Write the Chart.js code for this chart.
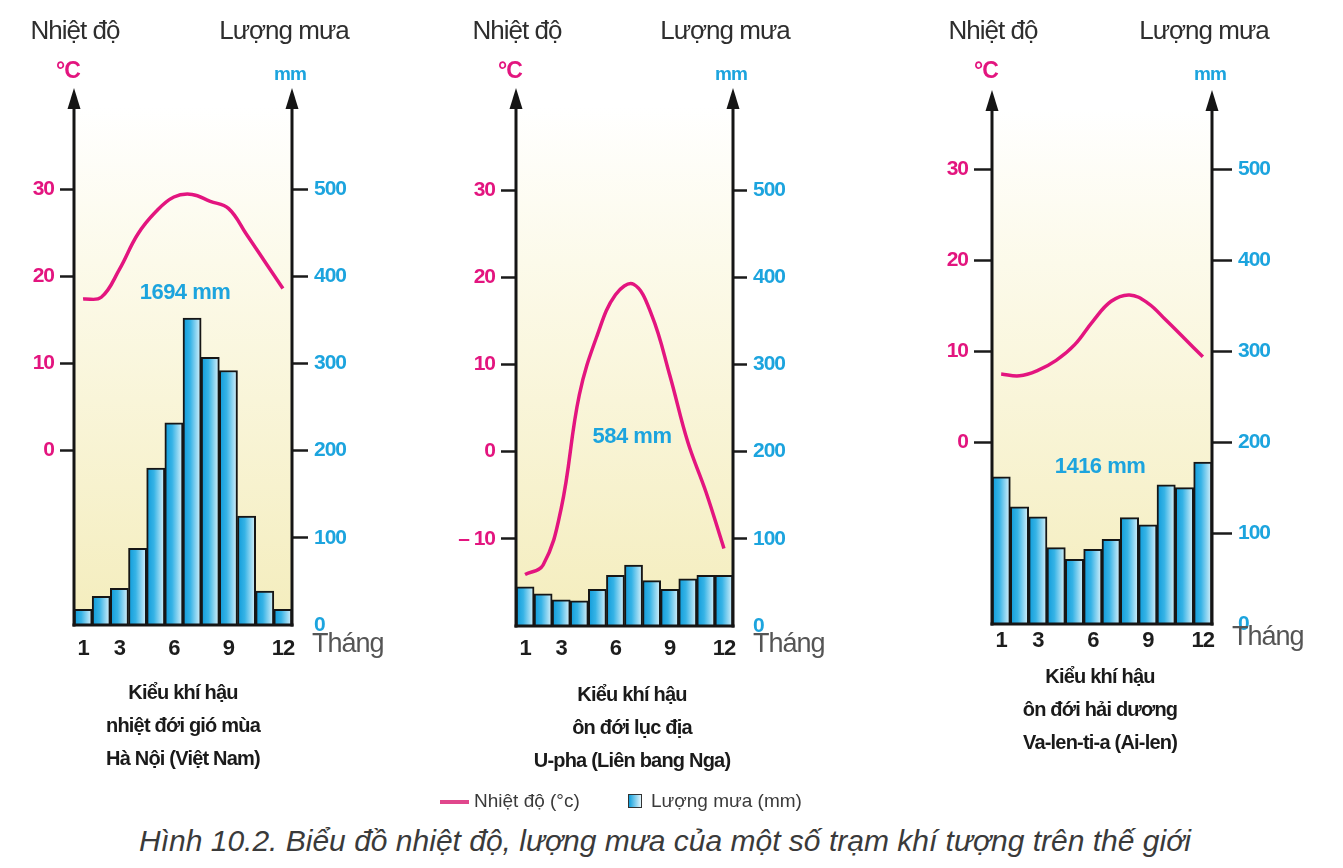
<!DOCTYPE html>
<html>
<head>
<meta charset="utf-8">
<script src="https://cdn.jsdelivr.net/npm/chart.js@4.4.1/dist/chart.umd.min.js"></script>
<style>
  body { margin: 0; background: #fff; width: 1343px; height: 868px; position: relative; overflow: hidden; }
  canvas { position: absolute; top: 0; }
  .sub { position: absolute; width: 320px; text-align: center; color: #1a1a1a;
         font: bold 20px 'Liberation Sans', Arial, sans-serif; line-height: 33px; letter-spacing: -0.8px; }
  .legend { position: absolute; top: 790px; left: 440px; font: 19px 'Liberation Sans', Arial, sans-serif; color: #3a3a3a; }
  .legend span { position: absolute; white-space: nowrap; top: 0; }
  .caption { position: absolute; top: 824px; left: 0; width: 1330px; text-align: center; color: #3a3a3a;
             font: italic 30px 'Liberation Sans', Arial, sans-serif; white-space: nowrap; }
</style>
</head>
<body>
<canvas id="c1" width="440" height="680" style="left:0px"></canvas>
<canvas id="c2" width="440" height="680" style="left:440px"></canvas>
<canvas id="c3" width="443" height="680" style="left:900px"></canvas>

<div class="sub" style="left:23px; top:676px">Kiểu khí hậu<br>nhiệt đới gió mùa<br>Hà Nội (Việt Nam)</div>
<div class="sub" style="left:472px; top:678px">Kiểu khí hậu<br>ôn đới lục địa<br>U-pha (Liên bang Nga)</div>
<div class="sub" style="left:940px; top:660px">Kiểu khí hậu<br>ôn đới hải dương<br>Va-len-ti-a (Ai-len)</div>

<div class="legend">
  <span style="left:0; top:10px; width:29px; height:4px; background:#e0478c"></span>
  <span style="left:34px">Nhiệt độ (°c)</span>
  <span style="left:188px; top:4px; width:12px; height:12px; border:1.5px solid #333; background:linear-gradient(90deg,#0f9fdc,#e2f5fc)"></span>
  <span style="left:211px">Lượng mưa (mm)</span>
</div>
<div class="caption">Hình 10.2. Biểu đồ nhiệt độ, lượng mưa của một số trạm khí tượng trên thế giới</div>

<script>
// months on the x axis, only some of them get a label
const months = ['1', '2', '3', '4', '5', '6', '7', '8', '9', '10', '11', '12'];
const labeledMonths = ['1', '3', '6', '9', '12'];

// Hà Nội
const hanoiTemp = [17.4, 17.6, 20.8, 24.8, 27.4, 29.1, 29.4, 28.6, 27.8, 24.8, 21.7, 18.6];
const hanoiRain = [18, 33, 42, 88, 180, 232, 352, 307, 292, 125, 39, 18];

// U-pha
const ufaTemp = [-14.1, -13.0, -6.5, 6.5, 13.4, 18.0, 19.2, 15.7, 8.8, 1.1, -4.6, -11.1];
const ufaRain = [45, 37, 30, 29, 42, 58, 70, 52, 42, 54, 58, 58];

// Va-len-ti-a
const valentiaTemp = [7.5, 7.3, 7.9, 9.0, 10.7, 13.3, 15.5, 16.2, 15.3, 13.4, 11.4, 9.4];
const valentiaRain = [162, 129, 118, 84, 71, 82, 93, 117, 109, 153, 150, 178];

// tick labels that are printed
const tempTicks = [0, 10, 20, 30];
const ufaTempTicks = [-10, 0, 10, 20, 30];
const rainTicks = [0, 100, 200, 300, 400, 500];
const rainTickMarks = [100, 200, 300, 400, 500];

const totals = ['1694 mm', '584 mm', '1416 mm'];

const FONT = "'Liberation Sans', Arial, sans-serif";
const MAGENTA = '#e3157f';
const CYAN = '#1ca4de';


// horizontal blue gradient inside every bar
function barFill(c) {
    const solid = '#3ab4e5';
    if (c.type !== 'data') return solid;
    const xs = c.chart.scales.x;
    if (!xs) return solid;
    const cx = xs.getPixelForValue(c.dataIndex);
    const w = (xs.right - xs.left) / months.length;
    if (!isFinite(cx) || !isFinite(w) || w <= 0) return solid;
    const g = c.chart.ctx.createLinearGradient(cx - w / 2, 0, cx + w / 2, 0);
    g.addColorStop(0, '#0e9bda');
    g.addColorStop(0.4, '#36b3e6');
    g.addColorStop(1, '#def3fb');
    return g;
}


// background, axis arrows and the texts around each diagram
const decor = {
    id: 'decor',
    beforeDraw(chart, args, o) {
        const { ctx, chartArea: a } = chart;
        ctx.letterSpacing = '-1px';
        const top = o.tip + 18;
        const g = ctx.createLinearGradient(0, top, 0, a.bottom);
        g.addColorStop(0, '#ffffff');
        g.addColorStop(0.3, '#fcfaea');
        g.addColorStop(1, '#f4edbd');
        ctx.save();
        ctx.fillStyle = g;
        ctx.fillRect(a.left, top, a.right - a.left, a.bottom - top);
        ctx.restore();
    },
    afterDraw(chart, args, o) {
        const { ctx, chartArea: a } = chart;
        const L = a.left, R = a.right, B = a.bottom;
        ctx.save();
        ctx.strokeStyle = '#151515';
        ctx.fillStyle = '#151515';
        ctx.lineWidth = 3;
        [L, R].forEach(x => {
            ctx.beginPath();
            ctx.moveTo(x, B + 1.5);
            ctx.lineTo(x, o.tip + 16);
            ctx.stroke();
            ctx.beginPath();
            ctx.moveTo(x, o.tip);
            ctx.lineTo(x - 6.5, o.tip + 21);
            ctx.lineTo(x + 6.5, o.tip + 21);
            ctx.closePath();
            ctx.fill();
        });
        ctx.beginPath();
        ctx.moveTo(L - 1.5, B);
        ctx.lineTo(R + 1.5, B);
        ctx.stroke();

        ctx.textAlign = 'center';
        ctx.textBaseline = 'middle';
        ctx.fillStyle = '#2e2e2e';
        ctx.font = `26px ${FONT}`;
        ctx.fillText('Nhiệt độ', L + 1, 32);
        ctx.fillText('Lượng mưa', R - 8, 32);

        ctx.fillStyle = MAGENTA;
        ctx.font = `bold 23px ${FONT}`;
        ctx.fillText('°C', L - 6, 72);
        ctx.fillStyle = CYAN;
        ctx.font = `bold 19px ${FONT}`;
        ctx.fillText('mm', R - 2, 75);

        ctx.letterSpacing = '-0.5px';
        ctx.font = `bold 22px ${FONT}`;
        ctx.fillText(o.total, o.totalX, o.totalY);
        ctx.letterSpacing = '-1px';

        ctx.textAlign = 'left';
        ctx.fillStyle = '#555';
        ctx.font = `27px ${FONT}`;
        ctx.fillText('Tháng', R + 20, o.thangY);
        ctx.restore();
    }
};


function makeChart(id, temp, rain, shownTemp, geo, total) {
    return new Chart(document.getElementById(id), {
        type: 'bar',
        plugins: [decor],
        data: {
            labels: months,
            datasets: [
                {
                    type: 'line',
                    label: 'Nhiệt độ (°c)',
                    data: temp,
                    yAxisID: 'temp',
                    borderColor: MAGENTA,
                    borderWidth: 3.5,
                    tension: 0.4,
                    pointRadius: 0,
                    order: 0
                },
                {
                    type: 'bar',
                    label: 'Lượng mưa (mm)',
                    data: rain,
                    yAxisID: 'rain',
                    backgroundColor: barFill,
                    borderColor: '#161616',
                    borderWidth: 2,
                    barPercentage: 1,
                    categoryPercentage: 1,
                    order: 1
                }
            ]
        },
        options: {
            responsive: false,
            animation: false,
            layout: { padding: { top: geo.top, left: 0, right: 0, bottom: 0 } },
            plugins: {
                legend: { display: false },
                tooltip: { enabled: false },
                decor: { tip: geo.tip, thangY: geo.thangY, total: total, totalX: geo.totalX, totalY: geo.totalY }
            },
            scales: {
                x: {
                    grid: { display: false },
                    border: { display: false },
                    ticks: {
                        autoSkip: false,
                        maxRotation: 0,
                        padding: geo.xPad,
                        color: '#1d1d1d',
                        font: { family: FONT, size: 22, weight: 'bold' },
                        callback: (v) => labeledMonths.includes(months[v]) ? months[v] : ''
                    },
                    afterFit: (s) => { s.height = geo.height - geo.bottom; }
                },
                temp: {
                    type: 'linear',
                    position: 'left',
                    min: -20,
                    max: geo.tempMax,
                    border: { display: false },
                    grid: {
                        drawOnChartArea: false,
                        tickLength: geo.tempTick,
                        tickWidth: 2.5,
                        tickColor: (c) => c.tick && shownTemp.includes(c.tick.value) ? '#1a1a1a' : 'rgba(0,0,0,0)'
                    },
                    ticks: {
                        stepSize: 10,
                        padding: 6,
                        color: MAGENTA,
                        font: { family: FONT, size: 21, weight: 'bold' },
                        callback: (v) => shownTemp.includes(v) ? (v < 0 ? '– ' + (-v) : String(v)) : ''
                    },
                    afterFit: (s) => { s.width = geo.left; }
                },
                rain: {
                    type: 'linear',
                    position: 'right',
                    min: 0,
                    max: geo.rainMax,
                    border: { display: false },
                    grid: {
                        drawOnChartArea: false,
                        tickLength: geo.rainTick,
                        tickWidth: 2.5,
                        tickColor: (c) => c.tick && rainTickMarks.includes(c.tick.value) ? '#1a1a1a' : 'rgba(0,0,0,0)'
                    },
                    ticks: {
                        stepSize: 100,
                        padding: 6,
                        color: CYAN,
                        font: { family: FONT, size: 21, weight: 'bold' },
                        callback: (v) => rainTicks.includes(v) ? String(v) : ''
                    },
                    afterFit: (s) => { s.width = geo.width - geo.right; }
                }
            }
        }
    });
}


makeChart('c1', hanoiTemp, hanoiRain, tempTicks,
    { width: 440, height: 680, left: 74, right: 292, top: 102, bottom: 625, tempMax: 40, rainMax: 600,
      tip: 88, xPad: 3, thangY: 645, totalX: 185, totalY: 293, tempTick: 14, rainTick: 16 }, totals[0]);

makeChart('c2', ufaTemp, ufaRain, ufaTempTicks,
    { width: 440, height: 680, left: 76, right: 293, top: 103, bottom: 626, tempMax: 40, rainMax: 600,
      tip: 88, xPad: 2, thangY: 645, totalX: 192, totalY: 437, tempTick: 15, rainTick: 14 }, totals[1]);

makeChart('c3', valentiaTemp, valentiaRain, tempTicks,
    { width: 443, height: 680, left: 92, right: 312, top: 124, bottom: 624, tempMax: 35, rainMax: 550,
      tip: 90, xPad: -4, thangY: 638, totalX: 200, totalY: 467, tempTick: 18, rainTick: 20 }, totals[2]);
</script>
</body>
</html>
